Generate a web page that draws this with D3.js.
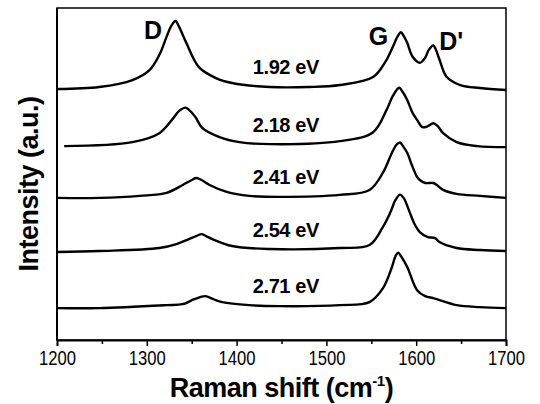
<!DOCTYPE html>
<html>
<head>
<meta charset="utf-8">
<script src="https://cdn.jsdelivr.net/npm/d3@7"></script>
<style>
  body { margin: 0; background: #fff; }
  svg { display: block; font-family: "Liberation Sans", Arial, sans-serif; }
</style>
</head>
<body>
<div id="chart"></div>
<script>
// laser energies, one spectrum each (top to bottom)
var energies = ["1.92 eV", "2.18 eV", "2.41 eV", "2.54 eV", "2.71 eV"];
// vertical stacking offsets (a.u.)
var offsets = [75.9, 58.4, 42.8, 26.8, 9.9];

// [Raman shift, intensity above baseline]
var spec192 = [[1200,-0.3],[1247,0.3],[1284,2.4],[1303,5.4],[1314,10.0],[1322,15.4],[1327,18.6],[1332,20.2],[1336,18.4],[1344,13.6],[1358,6.3],[1377,3.0],[1395,1.5],[1437,0.3],[1481,0.3],[1515,0.9],[1552,3.3],[1567,8.5],[1574,12.4],[1579,15.4],[1583,16.8],[1586,15.7],[1590,13.6],[1596,9.4],[1604,7.6],[1610,9.1],[1614,11.5],[1619,12.8],[1622,11.5],[1626,8.5],[1634,3.3],[1649,0.9],[1671,0],[1700,-0.6]];
var spec218 = [[1208,0],[1284,1.2],[1314,3.9],[1328,7.9],[1336,10.6],[1343,11.6],[1347,10.9],[1354,8.8],[1362,5.4],[1381,2.7],[1403,1.2],[1437,0.6],[1515,1.5],[1552,4.2],[1567,10.9],[1574,15.1],[1581,17.6],[1585,16.3],[1590,13.9],[1596,10.0],[1601,7.9],[1607,5.7],[1613,6.0],[1619,6.9],[1624,6.0],[1630,3.9],[1645,1.2],[1668,0],[1700,-0.3]];
var spec241 = [[1200,0],[1247,0],[1292,0.6],[1322,1.5],[1340,3.9],[1350,5.4],[1355,6.0],[1361,5.4],[1370,3.9],[1389,1.8],[1414,0.6],[1448,0.3],[1515,0.9],[1548,2.4],[1563,7.6],[1573,13.6],[1578,16.0],[1582,16.7],[1585,15.7],[1590,13.6],[1595,10.0],[1601,6.3],[1604,5.4],[1610,4.5],[1619,4.5],[1623,3.9],[1630,2.4],[1645,1.2],[1671,0.6],[1700,0]];
var spec254 = [[1200,-0.3],[1247,0],[1314,0.9],[1333,2.1],[1347,3.6],[1355,4.5],[1361,5.1],[1366,4.5],[1373,3.6],[1395,1.5],[1437,0.6],[1515,0.9],[1548,1.8],[1563,7.3],[1571,11.5],[1577,15.4],[1582,17.0],[1586,16.0],[1593,11.5],[1598,8.2],[1604,5.7],[1613,4.2],[1621,3.9],[1626,2.7],[1645,0.9],[1671,0.3],[1700,0]];
var spec271 = [[1200,-0.3],[1247,-0.3],[1322,0.6],[1340,0.9],[1353,2.4],[1365,3.3],[1374,2.4],[1384,1.5],[1414,0.6],[1448,0.3],[1515,0.6],[1548,1.5],[1563,5.7],[1573,12.1],[1577,15.4],[1580,16.4],[1583,15.4],[1590,12.1],[1601,5.1],[1610,3.3],[1619,2.7],[1626,2.1],[1645,0.6],[1671,0],[1700,-0.3]];
var spectra = [spec192, spec218, spec241, spec254, spec271];

// band names and where their labels sit
var peakNames = ["D", "G", "D'"];
var peakShift = [1307, 1558, 1639];

var xTicks = [1200, 1300, 1400, 1500, 1600, 1700];
var xMinor = [1250, 1350, 1450, 1550, 1650];

var margin = {top: 8, right: 34, bottom: 64, left: 57},
    width = 540 - margin.left - margin.right,
    height = 404 - margin.top - margin.bottom;

var svg = d3.select("#chart")
  .append("svg")
  .attr("width", 540)
  .attr("height", 404)
  .append("g")
  .attr("transform", "translate(" + margin.left + "," + margin.top + ")");

var x = d3.scaleLinear().domain([1200, 1700]).range([0, width]);
var y = d3.scaleLinear().domain([0, 100]).range([height, 0]);

// frame
svg.append("rect")
  .attr("width", width).attr("height", height)
  .attr("fill", "none").attr("stroke", "#000").attr("stroke-width", 1.5);

var line = d3.line()
  .x(function(d) { return x(d[0]); })
  .curve(d3.curveCatmullRom.alpha(0.5));

svg.selectAll(".spec")
  .data(spectra)
  .enter()
  .append("path")
  .attr("class", "spec")
  .attr("fill", "none")
  .attr("stroke", "#000")
  .attr("stroke-width", 2.4)
  .attr("stroke-linejoin", "round")
  .attr("d", function(d, i) {
    return line.y(function(p) { return y(p[1] + offsets[i]); })(d);
  });

// energy labels
svg.selectAll(".elab")
  .data(energies)
  .enter()
  .append("text")
  .attr("class", "elab")
  .attr("x", x(1418))
  .attr("y", function(d, i) { return y(offsets[i]) - 14; })
  .attr("font-size", 20)
  .attr("font-weight", "bold")
  .attr("letter-spacing", -0.4)
  .text(function(d) { return d; });

// band labels
var peakY = [31, 37, 42];
svg.selectAll(".plab")
  .data(peakNames)
  .enter()
  .append("text")
  .attr("class", "plab")
  .attr("x", function(d, i) { return x(peakShift[i]); })
  .attr("y", function(d, i) { return peakY[i]; })
  .attr("text-anchor", "middle")
  .attr("font-size", 25)
  .attr("font-weight", "bold")
  .text(function(d) { return d; });

// x axis
var ax = svg.append("g")
  .attr("transform", "translate(0," + height + ")")
  .call(d3.axisBottom(x).tickValues(xTicks).tickSize(6).tickPadding(5).tickFormat(d3.format("d")));
ax.select(".domain").attr("stroke-width", 1.8);
ax.selectAll(".tick line").attr("stroke-width", 1.5);
ax.selectAll("text")
  .attr("font-size", 20)
  .attr("textLength", 37)
  .attr("lengthAdjust", "spacingAndGlyphs")
  .attr("fill", "#000");

var axm = svg.append("g")
  .attr("transform", "translate(0," + height + ")")
  .call(d3.axisBottom(x).tickValues(xMinor).tickSize(4).tickFormat(""));
axm.select(".domain").remove();
axm.selectAll(".tick line").attr("stroke-width", 1.5);

// left spine a bit heavier
svg.append("line")
  .attr("x1", 0).attr("x2", 0).attr("y1", 0).attr("y2", height)
  .attr("stroke", "#000").attr("stroke-width", 2);

// axis titles
var xt = svg.append("text")
  .attr("x", width / 2)
  .attr("y", height + 57)
  .attr("text-anchor", "middle")
  .attr("font-size", 27)
  .attr("font-weight", "bold")
  .attr("letter-spacing", -0.5);
xt.append("tspan").text("Raman shift (cm");
xt.append("tspan").attr("font-size", 15).attr("dy", -11).text("-1");
xt.append("tspan").attr("dy", 11).text(")");

svg.append("text")
  .attr("transform", "translate(-19," + (height / 2 + 10) + ") rotate(-90)")
  .attr("text-anchor", "middle")
  .attr("font-size", 27)
  .attr("font-weight", "bold")
  .attr("letter-spacing", -0.5)
  .text("Intensity (a.u.)");
</script>
</body>
</html>
